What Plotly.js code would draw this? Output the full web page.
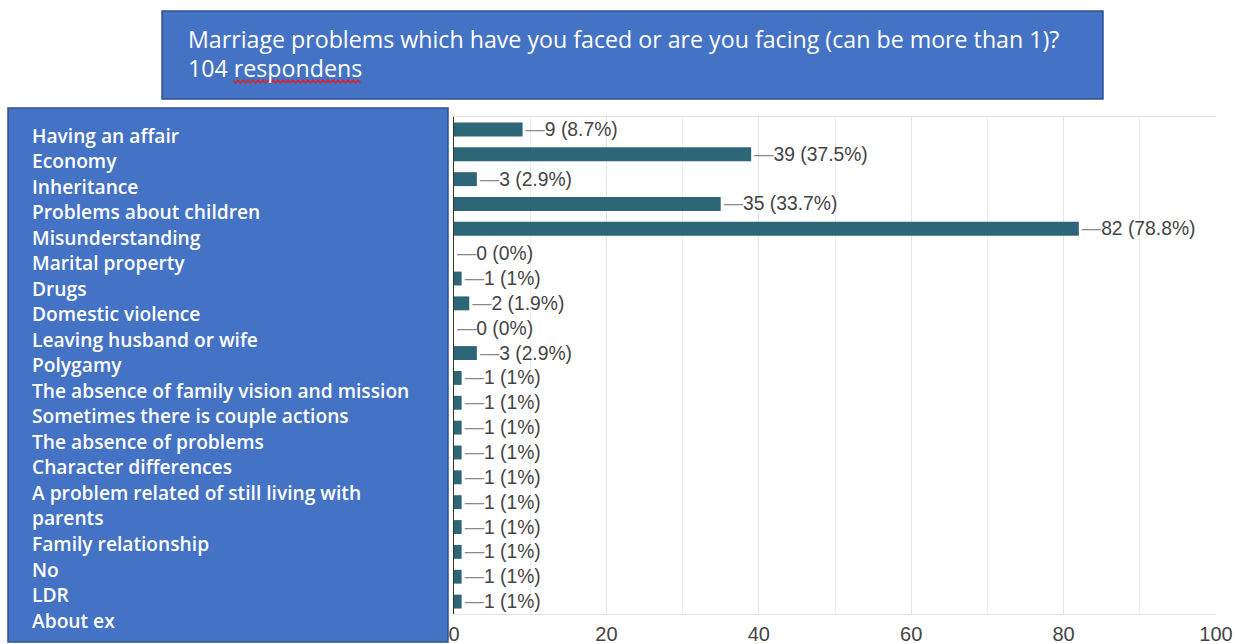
<!DOCTYPE html>
<html>
<head>
<meta charset="utf-8">
<script src="https://cdn.plot.ly/plotly-3.0.1.min.js"></script>
<style>html,body{margin:0;padding:0;background:#fff;}#chart{width:1235px;height:644px;}</style>
</head>
<body>
<div id="chart"></div>
<script>
// ---- data ----
const titleLines = ["Marriage problems which have you faced or are you facing (can be more than 1)?", "104 respondens"];
const totalRespondents = 104;
const categories = [
  "Having an affair",
  "Economy",
  "Inheritance",
  "Problems about children",
  "Misunderstanding",
  "Marital property",
  "Drugs",
  "Domestic violence",
  "Leaving husband or wife",
  "Polygamy",
  "The absence of family vision and mission",
  "Sometimes there is couple actions",
  "The absence of problems",
  "Character differences",
  "A problem related of still living with<br>parents",
  "Family relationship",
  "No",
  "LDR",
  "About ex"
];
const counts = [9, 39, 3, 35, 82, 0, 1, 2, 0, 3, 1, 1, 1, 1, 1, 1, 1, 1, 1, 1];
const xTicks = [0, 20, 40, 60, 80, 100];

// ---- geometry helpers (layout only) ----
const W = 1235, H = 644;
const M = {l: 454, r: 19, t: 117, b: 30};
const PW = W - M.l - M.r, PH = H - M.t - M.b;
const px = x => (x - M.l) / PW;
const py = y => 1 - (y - M.t) / PH;

const rows = counts.map((c, i) => i);
const labels = counts.map(c => {
  let p = (c / totalRespondents * 100).toFixed(1);
  if (p.endsWith('.0')) p = p.slice(0, -2);
  return '<span style="color:#8a8a8a">\u2014</span>' + c + ' (' + p + '%)';
});

const shapes = [
  {type: 'rect', xref: 'paper', yref: 'paper', x0: px(162), x1: px(1103), y0: py(99), y1: py(11),
   fillcolor: '#4472C4', line: {color: '#2F528F', width: 1.5}, layer: 'above'},
  {type: 'rect', xref: 'paper', yref: 'paper', x0: px(8), x1: px(448), y0: py(642), y1: py(108),
   fillcolor: '#4472C4', line: {color: '#2F528F', width: 1.5}, layer: 'above'}
];
// spell-check squiggle under "respondens"
let sq = 'M ' + px(233) + ',' + py(80);
for (let x = 233, k = 0; x < 360; x += 2.5, k++) {
  sq += ' L ' + px(x + 2.5) + ',' + py(k % 2 ? 80 : 83);
}
shapes.push({type: 'path', xref: 'paper', yref: 'paper', path: sq, line: {color: '#e02020', width: 1.2}, layer: 'above'});

const annotations = [];
const titleFont = {family: 'Open Sans', size: 23.2, color: '#ffffff'};
annotations.push({xref: 'paper', yref: 'paper', x: px(186), y: py(38.5), xanchor: 'left', yanchor: 'middle',
  text: titleLines[0], showarrow: false, font: titleFont});
annotations.push({xref: 'paper', yref: 'paper', x: px(186), y: py(68.5), xanchor: 'left', yanchor: 'middle',
  text: titleLines[1], showarrow: false, font: titleFont});

let line = 0;
categories.forEach(cat => {
  cat.split('<br>').forEach(t => {
    annotations.push({xref: 'paper', yref: 'paper', x: px(30), y: py(135 + line * 25.53), xanchor: 'left', yanchor: 'middle',
      text: t, showarrow: false, font: {family: 'Open Sans', size: 19.2, color: '#ffffff', weight: 600}});
    line++;
  });
});

const trace = {
  type: 'bar', orientation: 'h',
  x: counts, y: rows,
  marker: {color: '#2d6677'},
  text: labels, textposition: 'outside', textangle: 0, constraintext: 'none', cliponaxis: false,
  textfont: {family: 'Liberation Sans, Arial, sans-serif', size: 19.3, color: '#444444'},
  hoverinfo: 'none'
};

const layout = {
  width: W, height: H,
  margin: M,
  paper_bgcolor: '#ffffff', plot_bgcolor: '#ffffff',
  showlegend: false,
  bargap: 0.44,
  xaxis: {
    range: [0, 100], tickvals: xTicks, ticktext: xTicks.map(String),
    showgrid: true, gridcolor: '#e4e4e4', gridwidth: 1,
    minor: {dtick: 10, showgrid: true, gridcolor: '#ececec'},
    zeroline: false, showline: true, linecolor: '#e4e4e4', mirror: true,
    ticks: '', tickfont: {family: 'Liberation Sans, Arial, sans-serif', size: 20, color: '#444444'},
    ticklabelstandoff: 2, fixedrange: true
  },
  yaxis: {
    range: [19.5, -0.5], showticklabels: false, showgrid: false, zeroline: false,
    showline: true, linecolor: '#333333', linewidth: 1, ticks: '', fixedrange: true
  },
  shapes: shapes,
  annotations: annotations
};

Plotly.newPlot('chart', [trace], layout, {displayModeBar: false, staticPlot: true});
</script>
</body>
</html>
